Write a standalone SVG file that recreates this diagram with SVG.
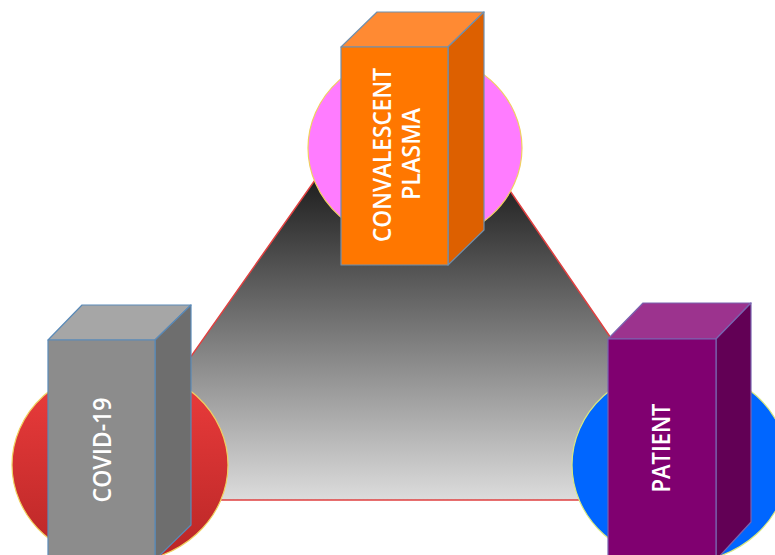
<svg xmlns="http://www.w3.org/2000/svg" width="775" height="555" viewBox="0 0 775 555">
<defs>
<linearGradient id="triG" gradientUnits="userSpaceOnUse" x1="0" y1="175" x2="0" y2="500">
<stop offset="0" stop-color="#1c1c1c"/>
<stop offset="1" stop-color="#dcdcdc"/>
</linearGradient>
<linearGradient id="redG" x1="0" y1="0" x2="0" y2="1">
<stop offset="0" stop-color="#ee3d3d"/>
<stop offset="1" stop-color="#b82626"/>
</linearGradient>
</defs>
<style>
.ell{stroke:#f0d060;stroke-width:1.2}
.box{stroke-width:1.2;stroke-linejoin:round}
.lbl{font-family:"Open Sans","Liberation Sans",sans-serif;font-weight:600;fill:#ffffff;text-anchor:middle;dominant-baseline:central}
</style>
<rect width="775" height="555" fill="#ffffff"/>
<g id="connectors">
<polygon points="410,45 90,500 722,500" fill="url(#triG)" stroke="#e04040" stroke-width="1.5"/>
</g>
<g id="node-plasma">
<ellipse class="ell" cx="415" cy="148" rx="107" ry="96" fill="#ff7cff"/>
<polygon class="box" points="341,47 377,12 484,12 448,47" fill="#ff8a33" stroke="#6f8fae"/>
<polygon class="box" points="448,47 484,12 484,230 448,265" fill="#dd6000" stroke="#6f8fae"/>
<rect class="box" x="341" y="47" width="107" height="218" fill="#ff7700" stroke="#6f8fae"/>
<text class="lbl" font-size="25" transform="translate(381,155) rotate(-90)" textLength="174" lengthAdjust="spacingAndGlyphs">CONVALESCENT</text>
<text class="lbl" font-size="25" transform="translate(410,154) rotate(-90)" textLength="92" lengthAdjust="spacingAndGlyphs">PLASMA</text>
</g>
<g id="node-covid">
<ellipse class="ell" cx="120" cy="465" rx="108" ry="98" fill="url(#redG)"/>
<polygon class="box" points="48,340 82,305 191,305 155,340" fill="#a6a6a6" stroke="#5a8ab8"/>
<polygon class="box" points="155,340 191,305 191,525 155,560" fill="#6e6e6e" stroke="#5a8ab8"/>
<rect class="box" x="48" y="340" width="107" height="230" fill="#8c8c8c" stroke="#5a8ab8"/>
<text class="lbl" font-size="25" transform="translate(101,450) rotate(-90)" textLength="105" lengthAdjust="spacingAndGlyphs">COVID-19</text>
</g>
<g id="node-patient">
<ellipse cx="680" cy="465" rx="108" ry="98" fill="#0066ff" stroke="#d8e880" stroke-width="1.2"/>
<polygon class="box" points="608,339 643,303 751,303 716,339" fill="#9c338e" stroke="#7a63b0"/>
<polygon class="box" points="716,339 751,303 751,522 716,560" fill="#620055" stroke="#7a63b0"/>
<rect class="box" x="608" y="339" width="108" height="230" fill="#800070" stroke="#7a63b0"/>
<text class="lbl" font-size="25" font-weight="700" transform="translate(660,448) rotate(-90)" textLength="89" lengthAdjust="spacingAndGlyphs">PATIENT</text>
</g>
</svg>
